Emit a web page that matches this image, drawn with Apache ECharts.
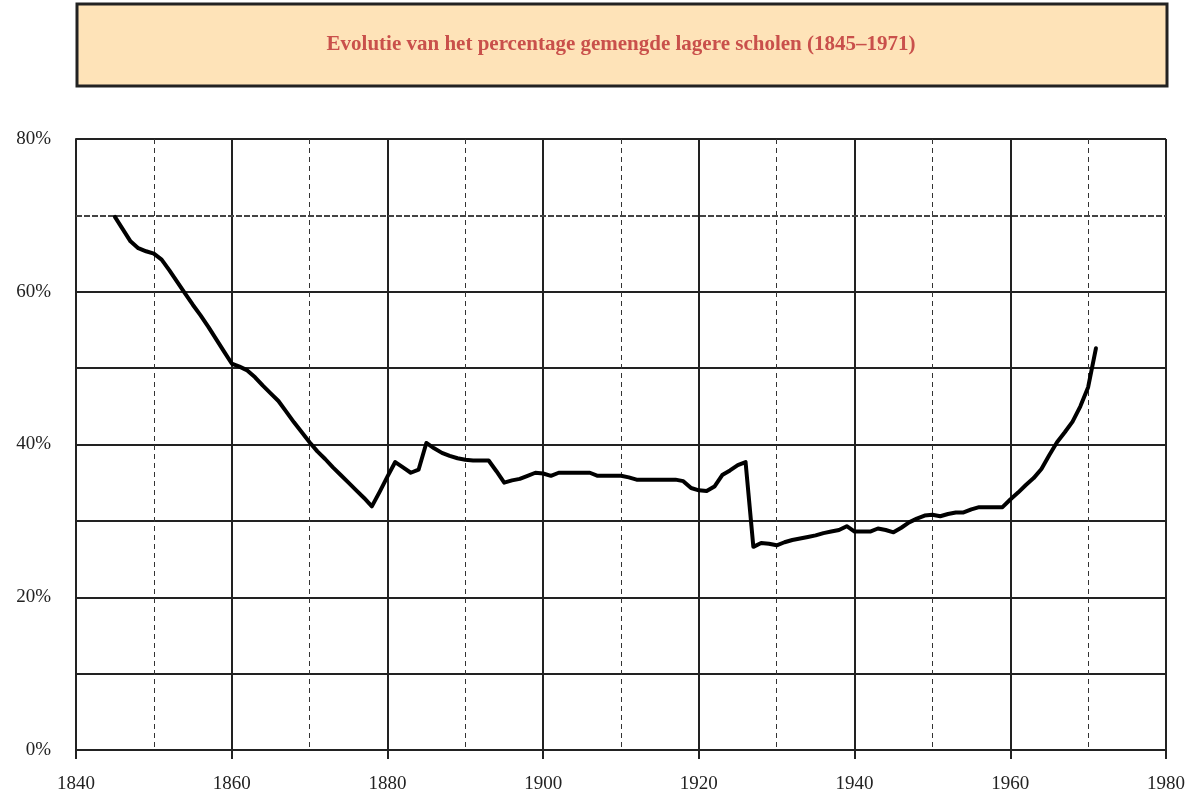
<!DOCTYPE html>
<html>
<head>
<meta charset="utf-8">
<script src="https://cdn.jsdelivr.net/npm/echarts@6/dist/echarts.min.js"></script>
<style>
  html, body { margin: 0; padding: 0; background: #fff; }
  #main { width: 1195px; height: 800px; }
</style>
</head>
<body>
<div id="main"></div>
<script>
// Evolutie gemengde lagere scholen
var titleText = 'Evolutie van het percentage gemengde lagere scholen (1845–1971)';

var startYear = 1845;
var pct = [
  69.8, 68.2, 66.6, 65.7, 65.3, 65.0, 64.2, 62.8, 61.3, 59.8,   // 1845-1854
  58.3, 56.9, 55.4, 53.8, 52.2, 50.6, 50.2, 49.7, 48.8, 47.7,   // 1855-1864
  46.7, 45.7, 44.3, 42.9, 41.6, 40.3, 39.1, 38.1, 37.0, 36.0,   // 1865-1874
  35.0, 34.0, 33.0, 31.9, 33.8, 35.8, 37.7, 37.0, 36.3, 36.7,   // 1875-1884
  40.2, 39.5, 38.9, 38.5, 38.2, 38.0, 37.9, 37.9, 37.9, 36.5,   // 1885-1894
  35.0, 35.3, 35.5, 35.9, 36.3, 36.2, 35.9, 36.3, 36.3, 36.3,   // 1895-1904
  36.3, 36.3, 35.9, 35.9, 35.9, 35.9, 35.7, 35.4, 35.4, 35.4,   // 1905-1914
  35.4, 35.4, 35.4, 35.2, 34.3, 34.0, 33.9, 34.5, 36.0, 36.6,   // 1915-1924
  37.3, 37.7, 26.6, 27.1, 27.0, 26.8, 27.2, 27.5, 27.7, 27.9,   // 1925-1934
  28.1, 28.4, 28.6, 28.8, 29.3, 28.6, 28.6, 28.6, 29.0, 28.8,   // 1935-1944
  28.5, 29.1, 29.8, 30.3, 30.7, 30.8, 30.6, 30.9, 31.1, 31.1,   // 1945-1954
  31.5, 31.8, 31.8, 31.8, 31.8, 32.8, 33.7, 34.7, 35.6, 36.8,   // 1955-1964
  38.6, 40.3, 41.6, 43.0, 45.0, 47.5, 52.6                      // 1965-1971
];
var dashedLevel = 70;

var serieData = [];
for (var i = 0; i < pct.length; i++) {
  serieData.push([startYear + i, pct[i]]);
}

var labelFont = {
  color: '#222',
  fontFamily: 'Liberation Serif',
  fontSize: 19
};

var chart = echarts.init(document.getElementById('main'));
var option = {
  backgroundColor: '#fff',
  animation: false,
  grid: { left: 76, right: 29, top: 139, bottom: 50 },
  graphic: [
    {
      type: 'rect',
      shape: { x: 77, y: 4, width: 1090, height: 82 },
      style: { fill: '#fee3b8', stroke: '#222', lineWidth: 3 },
      z: 0
    },
    {
      type: 'text',
      x: 621,
      y: 45,
      style: {
        text: titleText,
        fill: '#c9504b',
        font: 'bold 21px "Liberation Serif"',
        textAlign: 'center',
        textVerticalAlign: 'middle'
      },
      z: 1
    }
  ],
  xAxis: {
    type: 'value',
    min: 1840,
    max: 1980,
    interval: 20,
    axisLine: { show: true, lineStyle: { color: '#222', width: 2 } },
    axisTick: { show: true, length: 9, lineStyle: { color: '#222', width: 2 } },
    axisLabel: Object.assign({
      margin: 25,
      formatter: function (v) { return String(v); }
    }, labelFont),
    splitLine: { show: true, lineStyle: { color: '#222', width: 2 } },
    minorTick: { show: false, splitNumber: 2 },
    minorSplitLine: { show: true, lineStyle: { color: '#333', width: 1, type: [5, 4] } }
  },
  yAxis: {
    type: 'value',
    min: 0,
    max: 80,
    interval: 10,
    axisLine: { show: true, lineStyle: { color: '#222', width: 2 } },
    axisTick: { show: false },
    axisLabel: Object.assign({
      margin: 25,
      padding: [10, 0, 0, 0],
      formatter: function (v) { return v % 20 === 0 ? v + '%' : ''; }
    }, labelFont),
    splitLine: {
      show: true,
      lineStyle: {
        color: ['#222', '#222', '#222', '#222', '#222', '#222', '#222', 'transparent', '#222'],
        width: 2
      }
    }
  },
  series: [
    {
      type: 'line',
      data: serieData,
      showSymbol: false,
      lineStyle: { color: '#000', width: 4, join: 'round', cap: 'round' },
      z: 5,
      markLine: {
        silent: true,
        symbol: 'none',
        label: { show: false },
        lineStyle: { color: '#444', width: 2, type: [6, 2] },
        data: [{ yAxis: dashedLevel }]
      }
    }
  ]
};
chart.setOption(option);
</script>
</body>
</html>
